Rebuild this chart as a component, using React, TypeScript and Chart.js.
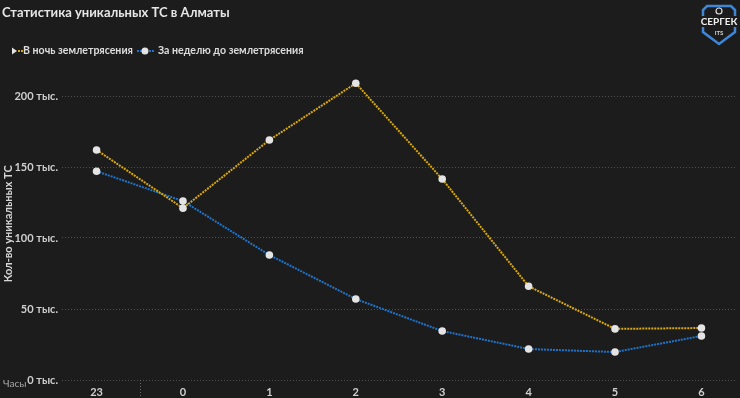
import React, { useEffect, useRef } from "react";
import { Chart, registerables } from "chart.js";
Chart.register(...registerables);

const hours = ["23", "0", "1", "2", "3", "4", "5", "6"];
const nightValues = [162000, 121000, 169000, 209000, 141500, 66000, 36000, 36600];
const weekBeforeValues = [147000, 126000, 88000, 57000, 34500, 21800, 19700, 31000];
const yTickValues = [0, 50000, 100000, 150000, 200000];
const seriesNames = ["В ночь землетрясения", "За неделю до землетрясения"];

const YELLOW = "#d9a80c";
const BLUE = "#1f74cc";
const POINT = "#e4e4e4";
const BG = "#1c1c1c";
const FONT = "Lato, 'Open Sans', sans-serif";

const extrasPlugin = {
  id: "extras",
  afterDraw(chart: any) {
    const { ctx, chartArea, scales } = chart;
    const x = scales.x.getPixelForValue(0.5);
    ctx.save();
    // category separator below the axis
    ctx.strokeStyle = "#6a6a6a";
    ctx.lineWidth = 1;
    ctx.setLineDash([1, 2]);
    ctx.beginPath();
    ctx.moveTo(Math.round(x) + 0.5, chartArea.bottom);
    ctx.lineTo(Math.round(x) + 0.5, chart.height);
    ctx.stroke();
    ctx.setLineDash([]);
    // axis name
    ctx.fillStyle = "#a8a8a8";
    ctx.font = `10px ${FONT}`;
    ctx.textBaseline = "middle";
    ctx.textAlign = "left";
    ctx.fillText("Часы", 3, chartArea.bottom + 4);

    // legend
    const ly = 51;
    ctx.font = `bold 10.6px ${FONT}`;
    let lx = 12;
    ctx.fillStyle = POINT;
    ctx.beginPath();
    ctx.moveTo(lx, ly - 3.5);
    ctx.lineTo(lx + 5, ly);
    ctx.lineTo(lx, ly + 3.5);
    ctx.closePath();
    ctx.fill();
    ctx.fillStyle = YELLOW;
    ctx.fillRect(lx + 6, ly - 1, 2, 2);
    ctx.fillRect(lx + 9, ly - 1, 2, 2);
    lx = 23;
    ctx.fillStyle = "#dcdcdc";
    ctx.fillText(seriesNames[0], lx, ly);
    lx += ctx.measureText(seriesNames[0]).width + 4;
    ctx.fillStyle = BLUE;
    for (let i = 0; i < 16; i += 3) ctx.fillRect(lx + i, ly - 1, 2, 2);
    ctx.fillStyle = POINT;
    ctx.beginPath();
    ctx.arc(lx + 8, ly, 3.5, 0, Math.PI * 2);
    ctx.fill();
    lx += 21;
    ctx.fillStyle = "#dcdcdc";
    ctx.fillText(seriesNames[1], lx, ly);
    ctx.restore();
  },
};

export default function App() {
  const ref = useRef<HTMLCanvasElement>(null);
  useEffect(() => {
    document.body.style.margin = "0";
    document.body.style.background = BG;
    const common = {
      borderWidth: 2,
      borderDash: [2, 1],
      pointBackgroundColor: POINT,
      pointBorderWidth: 0,
      pointRadius: 3.8,
      pointStyle: "circle" as const,
    };
    const chart = new Chart(ref.current!, {
      type: "line",
      data: {
        datasets: [
          {
            label: seriesNames[0],
            data: nightValues.map((v, i) => ({ x: i, y: v })),
            borderColor: YELLOW,
            ...common,
          },
          {
            label: seriesNames[1],
            data: weekBeforeValues.map((v, i) => ({ x: i, y: v })),
            borderColor: BLUE,
            ...common,
          },
        ],
      },
      options: {
        animation: false,
        responsive: false,
        maintainAspectRatio: false,
        layout: { padding: { left: 2, right: 0, top: 0, bottom: 0 } },
        plugins: {
          tooltip: { enabled: false },
          legend: { display: false },
          title: {
            display: true,
            text: "Статистика уникальных ТС в Алматы",
            align: "start",
            color: "#e6e6e6",
            font: { family: FONT, size: 13, weight: "bold" },
            padding: { top: 5, bottom: 47 },
          },
        },
        scales: {
          x: {
            type: "linear",
            min: -0.4,
            max: 7.4,
            afterBuildTicks: (s: any) => {
              s.ticks = hours.map((_, i) => ({ value: i }));
            },
            afterFit: (s: any) => {
              s.height = 18;
            },
            ticks: {
              callback: (v: any) => hours[v as number] ?? "",
              color: "#cfcfcf",
              font: { family: FONT, size: 11, weight: "bold" },
              padding: -2,
              maxRotation: 0,
              autoSkip: false,
            },
            grid: { display: false },
            border: { display: false },
          },
          y: {
            min: 0,
            max: 220000,
            afterBuildTicks: (s: any) => {
              s.ticks = yTickValues.map((v) => ({ value: v }));
            },
            afterFit: (s: any) => {
              s.width = 60;
            },
            ticks: {
              callback: (v: any) => `${Number(v) / 1000} тыс.`,
              color: "#cfcfcf",
              font: { family: FONT, size: 11, weight: "bold" },
              padding: 4,
            },
            title: {
              display: true,
              text: "Кол-во уникальных ТС",
              color: "#d6d6d6",
              font: { family: FONT, size: 11, weight: "bold" },
              padding: 0,
            },
            grid: {
              color: "#505050",
              lineWidth: 1,
              drawTicks: false,
            },
            border: { display: false, dash: [1, 2] },
          },
        },
      },
      plugins: [extrasPlugin],
    });
    return () => chart.destroy();
  }, []);

  return (
    <div style={{ position: "relative", width: 740, height: 398, background: BG, overflow: "hidden" }}>
      <canvas ref={ref} width={740} height={398} style={{ display: "block" }} />
      <svg width={40} height={46} viewBox="0 0 40 46" style={{ position: "absolute", left: 699, top: 2 }}>
        <path d="M8 4 L32 4 L36 8 L36 30 L20 42 L4 30 L4 8 Z" fill="none" stroke="#3d86d8" strokeWidth={2.5} />
        <circle cx={20} cy={9} r={3} fill="none" stroke="#e0e0e0" strokeWidth={1.2} />
        <rect x={1} y={14} width={38} height={11} fill={BG} />
        <text x={20} y={23} textAnchor="middle" fill="#f0f0f0" fontFamily="Lato, sans-serif" fontWeight="bold" fontSize={10}>
          СЕРГЕК
        </text>
        <text x={20} y={33} textAnchor="middle" fill="#cfcfcf" fontFamily="Lato, sans-serif" fontWeight="bold" fontSize={6}>
          ITS
        </text>
      </svg>
    </div>
  );
}
